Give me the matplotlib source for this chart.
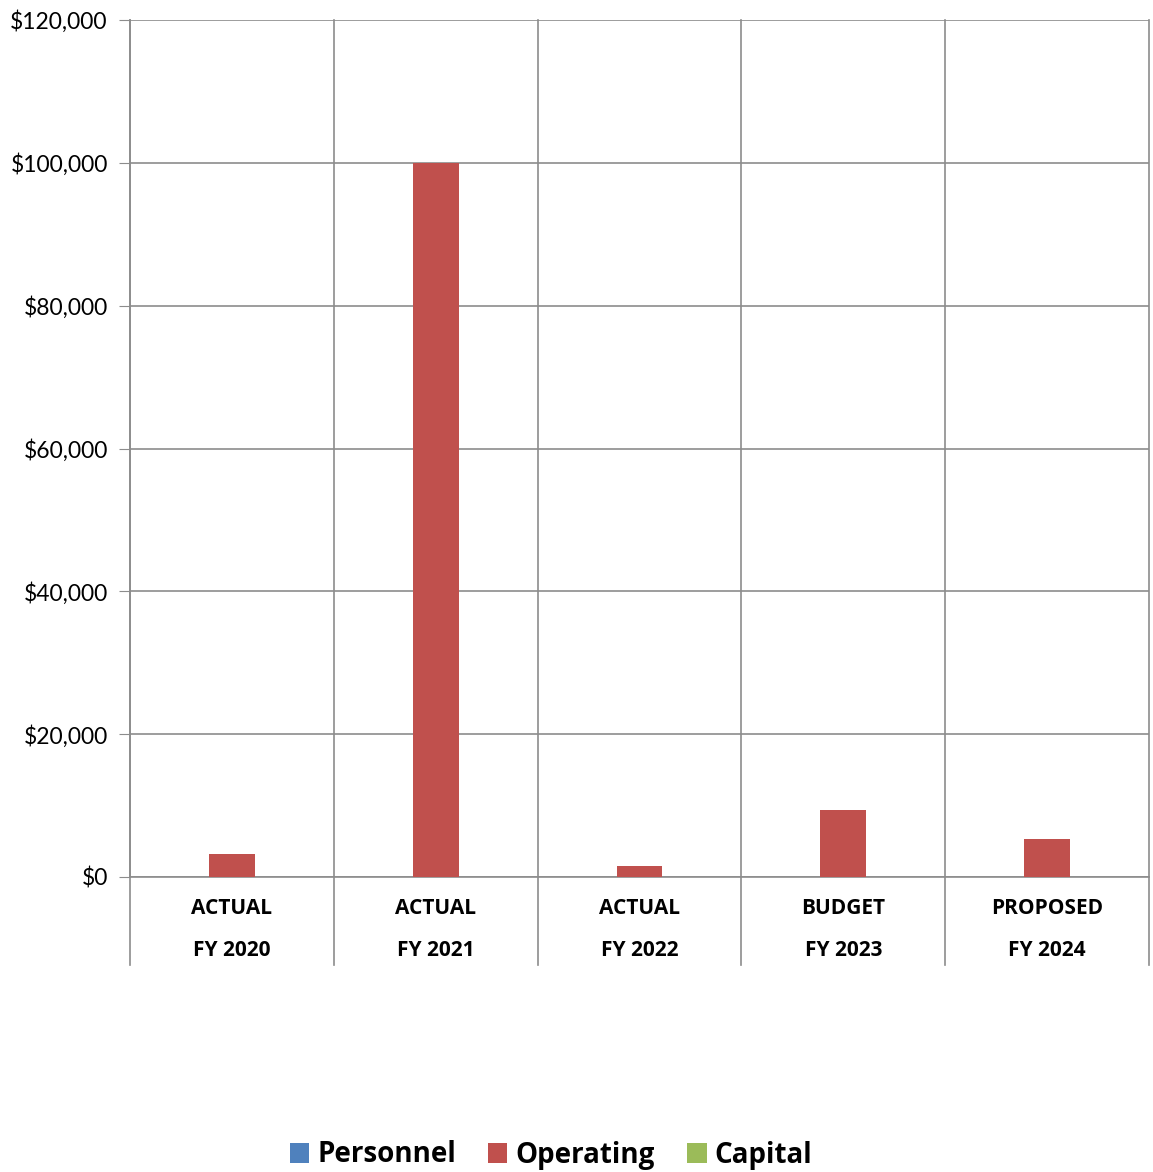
import numpy as np
import matplotlib.pyplot as plt
from matplotlib.transforms import blended_transform_factory
from matplotlib.lines import Line2D

plt.rcParams['font.family'] = ['Lato', 'DejaVu Sans']

categories = ['ACTUAL\nFY 2020', 'ACTUAL\nFY 2021', 'ACTUAL\nFY 2022', 'BUDGET\nFY 2023', 'PROPOSED\nFY 2024']
personnel = [0, 0, 0, 0, 0]
operating = [3220, 100000, 1540, 9380, 5320]
capital = [0, 0, 0, 0, 0]

series = [('Personnel', personnel, '#4F81BD'),
          ('Operating', operating, '#C0504D'),
          ('Capital', capital, '#9BBB59')]

W, H = 1153, 1172
fig = plt.figure(figsize=(W / 100, H / 100), dpi=100)
ax = fig.add_axes([130 / W, 1 - 877 / H, (1149 - 130) / W, (877 - 20) / H])

x = np.arange(len(categories))
bw = 0.225
for i, (name, vals, col) in enumerate(series):
    ax.bar(x + (i - 1) * bw, vals, bw, color=col, label=name, linewidth=0, zorder=3)

ax.set_xlim(-0.5, len(categories) - 0.5)
ax.set_ylim(0, 120000)
ax.set_yticks(np.arange(0, 120001, 20000))
ax.set_yticklabels(['${:,}'.format(v) for v in range(0, 120001, 20000)], fontsize=16.5)
ax.tick_params(axis='y', length=8, color='#8c8c8c', pad=8)
ax.set_xticks([])
ax.grid(axis='y', color='#8c8c8c', linewidth=1.2, zorder=0)
for s in ['top', 'right']:
    ax.spines[s].set_visible(False)
for s in ['left', 'bottom']:
    ax.spines[s].set_color('#8c8c8c')
    ax.spines[s].set_linewidth(1.2)

# category dividers running down past the axis
ext = -(965 - 877) / (877 - 20)
tr = blended_transform_factory(ax.transData, ax.transAxes)
for b in np.arange(-0.5, len(categories), 1.0):
    ax.add_line(Line2D([b, b], [ext, 1], transform=tr, color='#8c8c8c',
                       linewidth=1.2, clip_on=False, zorder=1))

bold_font = ['Open Sans', 'DejaVu Sans']
for xi, lab in zip(x, categories):
    top, bot = lab.split('\n')
    ax.text(xi, -(908 - 877) / 857, top, transform=tr, ha='center', va='center',
            fontsize=15, fontweight='bold', family=bold_font)
    ax.text(xi, -(951 - 877) / 857, bot, transform=tr, ha='center', va='center',
            fontsize=15, fontweight='bold', family=bold_font)

fig.legend(loc='center', bbox_to_anchor=(551 / W, 1 - 1155 / H), ncol=3, frameon=False,
           prop={'size': 20, 'weight': 'bold', 'family': bold_font},
           handlelength=0.7, handleheight=0.7, handletextpad=0.3, columnspacing=1.15)

fig.savefig('out.png', dpi=100)
